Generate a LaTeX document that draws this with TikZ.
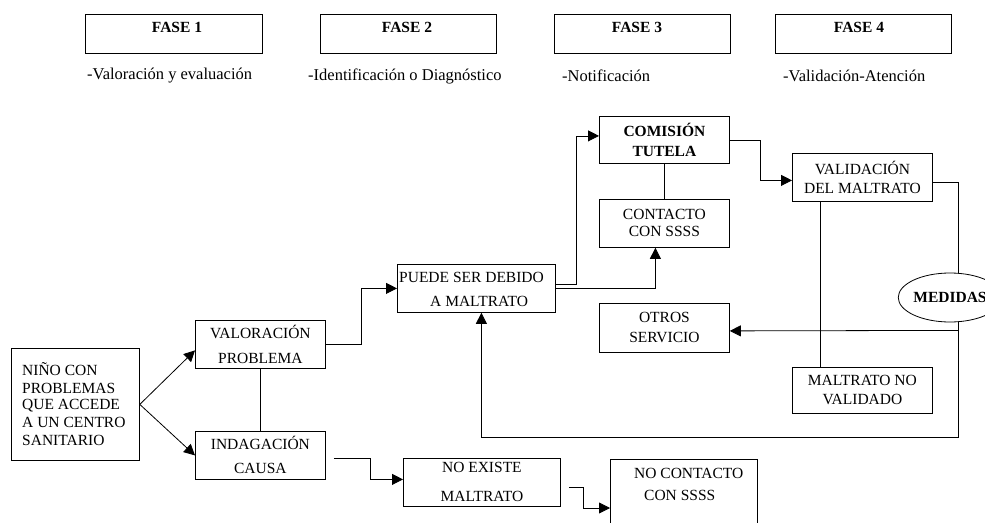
\documentclass[tikz,border=0pt]{standalone}
\usepackage{fontspec}
\setmainfont{Liberation Serif}
\usetikzlibrary{arrows.meta,shapes.geometric,calc}
\begin{document}
\begin{tikzpicture}[x=1pt,y=-1pt,
  box/.style={draw, line width=0.8pt, inner sep=0pt, anchor=north west, align=center,
    font=\fontsize{15.5}{17}\selectfont},
  txt/.style={inner sep=0pt, font=\fontsize{15.5}{17}\selectfont, align=center},
  sub/.style={inner sep=0pt, anchor=west, font=\fontsize{16.5}{18}\selectfont},
  link/.style={line width=0.8pt},
  arr/.style={line width=0.8pt, -{Triangle[length=11pt,width=11pt]}},
]
\useasboundingbox (0,0) rectangle (985,522);

% phase headers
\node[box, minimum width=177pt, minimum height=39pt] (f1) at (85,14) {};
\node[box, minimum width=176pt, minimum height=39pt] (f2) at (320,14) {};
\node[box, minimum width=176pt, minimum height=39pt] (f3) at (554,14) {};
\node[box, minimum width=176pt, minimum height=39pt] (f4) at (775,14) {};
\node[txt, font=\bfseries\fontsize{15.5}{17}\selectfont] (f1t) at (177,27) {FASE 1};
\node[txt, font=\bfseries\fontsize{15.5}{17}\selectfont] (f2t) at (407,27) {FASE 2};
\node[txt, font=\bfseries\fontsize{15.5}{17}\selectfont] (f3t) at (637,27) {FASE 3};
\node[txt, font=\bfseries\fontsize{15.5}{17}\selectfont] (f4t) at (859,27) {FASE 4};
\node[sub] (s1) at (87,76) {-Valoración y evaluación};
\node[sub] (s2) at (308,76) {-Identificación o Diagnóstico};
\node[sub] (s3) at (562,76) {-Notificación};
\node[sub] (s4) at (783,76) {-Validación-Atención};

% flow boxes
\node[box, minimum width=128pt, minimum height=112pt] (nino) at (11,348) {};
\node[txt, anchor=west, align=left, font=\fontsize{15.5}{18}\selectfont] (ninot) at (22,404)
  {NIÑO CON\\PROBLEMAS\\[-2pt]QUE ACCEDE\\A UN CENTRO\\SANITARIO};
\node[box, minimum width=130pt, minimum height=48pt] (valor) at (195,320) {VALORACIÓN\\[8pt]PROBLEMA};
\node[box, minimum width=130pt, minimum height=48pt] (indag) at (195,431) {INDAGACIÓN\\[7pt]CAUSA};
\node[box, minimum width=158pt, minimum height=48pt] (puede) at (397,264) {};
\node[txt, anchor=west, align=left] (puedet) at (399,289)
  {PUEDE SER DEBIDO\\[7pt]\hspace*{31pt}A MALTRATO};
\node[box, minimum width=130pt, minimum height=47pt, font=\bfseries\fontsize{15.5}{17}\selectfont]
  (comis) at (599,116) {COMISIÓN\\[3pt]TUTELA};
\node[box, minimum width=130pt, minimum height=48pt] (contac) at (599,199) {CONTACTO\\CON SSSS};
\node[box, minimum width=130pt, minimum height=49pt] (otros) at (599,303) {OTROS\\[3pt]SERVICIO};
\node[box, minimum width=140pt, minimum height=48pt] (valid) at (792,153) {VALIDACIÓN\\[2pt]DEL MALTRATO};
\node[box, minimum width=140pt, minimum height=46pt] (maltno) at (792,367) {MALTRATO NO\\[2pt]VALIDADO};
\node[draw, line width=0.8pt, ellipse, minimum width=96pt, minimum height=49pt, inner sep=0pt,
  font=\bfseries\fontsize{15.5}{17}\selectfont] (medidas) at (950,297.5) {MEDIDAS};
\node[box, minimum width=157pt, minimum height=48pt] (noex) at (403,458) {NO EXISTE\\[12pt]MALTRATO};
\node[box, minimum width=147pt, minimum height=80pt] (nocont) at (610,459) {};
\node[txt, anchor=west, align=left] (nocontt) at (634,484)
  {NO CONTACTO\\[5pt]\hspace*{10pt}CON SSSS};

% connectors
\draw[arr] (nino.east) -- ($(valor.west)+(0,6)$);
\draw[arr] (nino.east) -- (indag.west);
\draw[link] (valor.south) -- (indag.north);
\draw[arr] (valor.east) -- ++(36,0) |- (puede.west);
\draw[arr] ($(puede.east)+(0,-4)$) -- ++(21,0) |- ($(comis.west)+(0,-4)$);
\draw[arr] (puede.east) -| ($(contac.south)+(-9,0)$);
\draw[link] (comis.south) -- (contac.north);
\draw[arr] (comis.east) -- ++(31,0) |- ($(valid.west)+(0,3)$);
\draw[link] ($(valid.east)+(0,5)$) -| ($(medidas.north)+(8,0)$);
\draw[link] ($(valid.south)+(-42,0)$) -- ($(maltno.north)+(-42,0)$);
\draw[arr] ($(medidas.south)+(8,8)$) -- ($(otros.east)+(0,3)$);
\draw[arr] ($(medidas.south)+(8,0)$) -- ++(0,115) -| ($(puede.south)+(5,0)$);
\draw[arr] ($(indag.east)+(8,3)$) -- ++(37,0) |- ($(noex.west)+(0,-3)$);
\draw[arr] ($(noex.east)+(8,5)$) -- ++(15,0) |- ($(nocont.north west)+(0,49)$);
\end{tikzpicture}
\end{document}
